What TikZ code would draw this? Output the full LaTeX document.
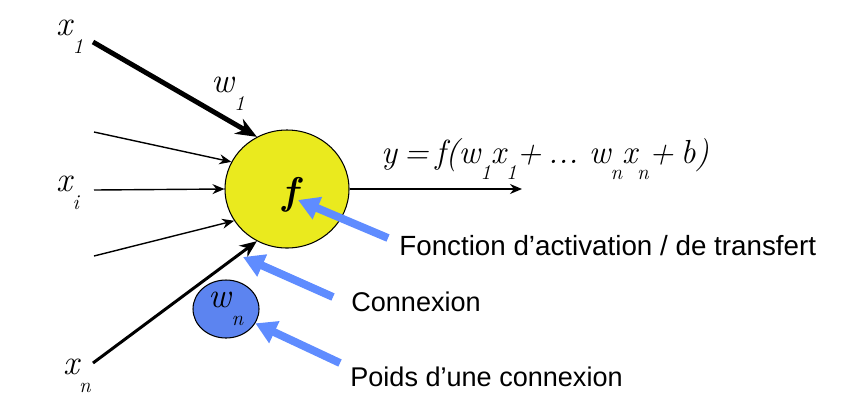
\documentclass[tikz,border=0pt]{standalone}
\usepackage{fontspec}
\setsansfont{Liberation Sans}
\usetikzlibrary{arrows.meta,shapes.geometric}
\definecolor{jaune}{RGB}{234,234,30}
\definecolor{bleu}{RGB}{92,132,240}
\definecolor{fleche}{RGB}{95,140,255}
\newcommand{\ind}[2]{#1\raisebox{-.5em}{\fontsize{12}{12}\selectfont #2}}

\begin{document}
\begin{tikzpicture}[x=0.2mm,y=-0.2mm,>=Stealth,
  lab/.style={font=\rmfamily\itshape\fontsize{20}{20}\selectfont,inner sep=0pt},
  txt/.style={font=\sffamily\fontsize{15.4}{15.4}\selectfont,anchor=west,inner sep=0pt},
  ptr/.style={draw=fleche,line width=4.5pt,-{Triangle[length=0.42cm,width=0.46cm]}},
  entree/.style={-{Stealth[length=0.24cm,width=0.2cm]},line width=0.8pt}]
\useasboundingbox (0,0) rectangle (853,394);
\node[ellipse,draw,fill=jaune,minimum width=2.48cm,minimum height=2.36cm,line width=0.6pt] (neur) at (287,189) {};
\node[inner sep=0pt,font=\rmfamily\bfseries\itshape\fontsize{22}{22}\selectfont] (fsym) at (290,195) {f};
\node[ellipse,draw,fill=bleu,minimum width=1.32cm,minimum height=1.16cm,inner sep=0pt,line width=0.6pt,font=\rmfamily\itshape\fontsize{20}{20}\selectfont] (wn) at (226,309) {\ind{w}{n}};
% entrees
\coordinate (e1) at (93,42);
\coordinate (e2) at (94,132);
\coordinate (ei) at (94,190);
\coordinate (e4) at (94,256);
\coordinate (en) at (93,363);
\coordinate (sortie) at (522,189);
\node[lab] (x1) at (70,37) {\ind{x}{1}};
\node[lab] (w1) at (228,94) {\ind{w}{1}};
\node[lab] (xi) at (68,193) {\ind{x}{i}};
\node[lab] (xn) at (77,376) {\ind{x}{n}};
\draw[-{Stealth[length=0.42cm,width=0.34cm]},line width=2.8pt] (e1)--(neur.120);
\draw[entree] (e2)--(neur.154);
\draw[entree] (ei)--(neur.180);
\draw[entree] (e4)--(neur.211);
\draw[-{Stealth[length=0.34cm,width=0.28cm]},line width=1.7pt] (en)--(neur.240);
\draw[entree] (neur.east)--(sortie);
\node[lab,font=\rmfamily\itshape\fontsize{19}{19}\selectfont] (eq) at (545,159) {\spaceskip=.2em\relax y = f(\ind{w}{1}\ind{x}{1}+ ... \ind{w}{n}\ind{x}{n}+ b)};
% legendes
\node[txt,font=\sffamily\fontsize{15.8}{15.8}\selectfont] (act) at (399,246) {Fonction d’activation / de transfert};
\node[txt] (conn) at (351,302) {Connexion};
\node[txt] (poids) at (350,377) {Poids d’une connexion};
\coordinate (p1) at (388,238); \coordinate (t1) at (298,200);
\coordinate (p2) at (333,297); \coordinate (t2) at (243,257);
\coordinate (p3) at (340,363);
\draw[ptr] (p1)--(t1);
\draw[ptr] (p2)--(t2);
\draw[ptr] (p3)--(wn.-26);
\end{tikzpicture}
\end{document}
